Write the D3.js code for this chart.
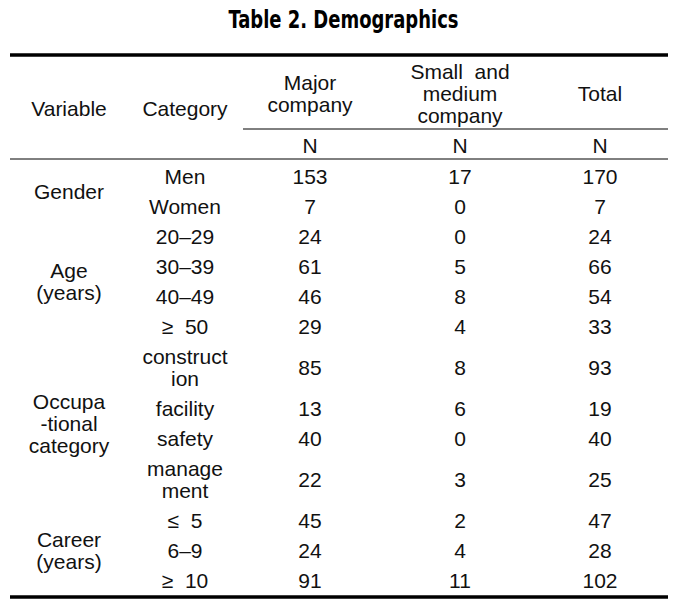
<!DOCTYPE html>
<html>
<head>
<meta charset="utf-8">
<script src="https://cdn.jsdelivr.net/npm/d3@7"></script>
<style>
  html, body { margin: 0; padding: 0; background: #fff; }
  svg { display: block; }
</style>
</head>
<body>
<svg id="chart" width="687" height="603"></svg>
<script>
// ---- data ----
const title = "Table 2. Demographics";
const headerVariable = "Variable";
const headerCategory = "Category";
const columnHeaders = ["Major\ncompany", "Small  and\nmedium\ncompany", "Total"];
const unitLabels = ["N", "N", "N"];
const variables = ["Gender", "Age\n(years)", "Occupa\n-tional\ncategory", "Career\n(years)"];
const categories = ["Men", "Women", "20\u201329", "30\u201339", "40\u201349", "\u2265  50",
  "construct\nion", "facility", "safety", "manage\nment", "\u2264  5", "6\u20139", "\u2265  10"];
const categoryGroup = [0, 0, 1, 1, 1, 1, 2, 2, 2, 2, 3, 3, 3];
const majorN = [153, 7, 24, 61, 46, 29, 85, 13, 40, 22, 45, 24, 91];
const smallN = [17, 0, 0, 5, 8, 4, 8, 6, 0, 3, 2, 4, 11];
const totalN = [170, 7, 24, 66, 54, 33, 93, 19, 40, 25, 47, 28, 102];

// ---- layout ----
const W = 687;
const left = 10, right = 668;
const colX = [69, 185, 310, 460, 600];
const fontBody = "'Liberation Sans', Arial, sans-serif";
const fs = 21;
const lineH = 22;
const rowBase = 30;
const topLineY = 55, subLineY = 129, nLineY = 159;
const bodyTop = 161;

const svg = d3.select("#chart");

// title
svg.append("text")
  .attr("x", W / 2).attr("y", 28)
  .attr("text-anchor", "middle")
  .attr("textLength", 230)
  .attr("lengthAdjust", "spacingAndGlyphs")
  .style("font-family", "'Liberation Sans Narrow', 'DejaVu Sans Condensed', 'Liberation Sans', sans-serif")
  .style("font-weight", "bold")
  .style("font-size", "25px")
  .text(title);

function multiText(g, x, cy, str) {
  const lines = str.split("\n");
  const t = g.append("text")
    .attr("x", x)
    .attr("text-anchor", "middle")
    .attr("dominant-baseline", "central")
    .style("font-family", fontBody)
    .style("font-size", fs + "px")
    .style("fill", "#111")
    .style("white-space", "pre");
  lines.forEach((l, i) => {
    t.append("tspan")
      .attr("x", x)
      .attr("y", cy + (i - (lines.length - 1) / 2) * lineH)
      .text(l);
  });
  return t;
}

const g = svg.append("g");

// header
const headCY = 93;
multiText(g, colX[0], 108, headerVariable);
multiText(g, colX[1], 108, headerCategory);
columnHeaders.forEach((h, i) => {
  multiText(g, colX[i + 2], headCY, h);
});
unitLabels.forEach((u, i) => multiText(g, colX[i + 2], 145, u));

// rows
const rowHeights = categories.map(c => rowBase + (c.split("\n").length - 1) * lineH);
const rowTops = [bodyTop];
rowHeights.forEach((h, i) => rowTops.push(rowTops[i] + h));
const rowScale = d3.scaleOrdinal().domain(d3.range(categories.length))
  .range(rowHeights.map((h, i) => rowTops[i] + h / 2));

categories.forEach((c, i) => {
  const cy = rowScale(i);
  multiText(g, colX[1], cy, c);
  multiText(g, colX[2], cy, String(majorN[i]));
  multiText(g, colX[3], cy, String(smallN[i]));
  multiText(g, colX[4], cy, String(totalN[i]));
});

variables.forEach((v, gi) => {
  const idx = d3.range(categories.length).filter(i => categoryGroup[i] === gi);
  const top = rowTops[idx[0]];
  const bot = rowTops[idx[idx.length - 1] + 1];
  multiText(g, colX[0], (top + bot) / 2, v);
});

const bottomY = rowTops[rowTops.length - 1] + 2;

// rules
const rules = [
  { x1: left, x2: right, y: topLineY, w: 3.5 },
  { x1: 243, x2: right, y: subLineY, w: 1 },
  { x1: left, x2: right, y: nLineY, w: 1 },
  { x1: left, x2: right, y: bottomY, w: 3.5 }
];
svg.selectAll("line.rule").data(rules).join("line")
  .attr("class", "rule")
  .attr("x1", d => d.x1).attr("x2", d => d.x2)
  .attr("y1", d => d.y).attr("y2", d => d.y)
  .attr("stroke", "#000")
  .attr("stroke-width", d => d.w);
</script>
</body>
</html>
